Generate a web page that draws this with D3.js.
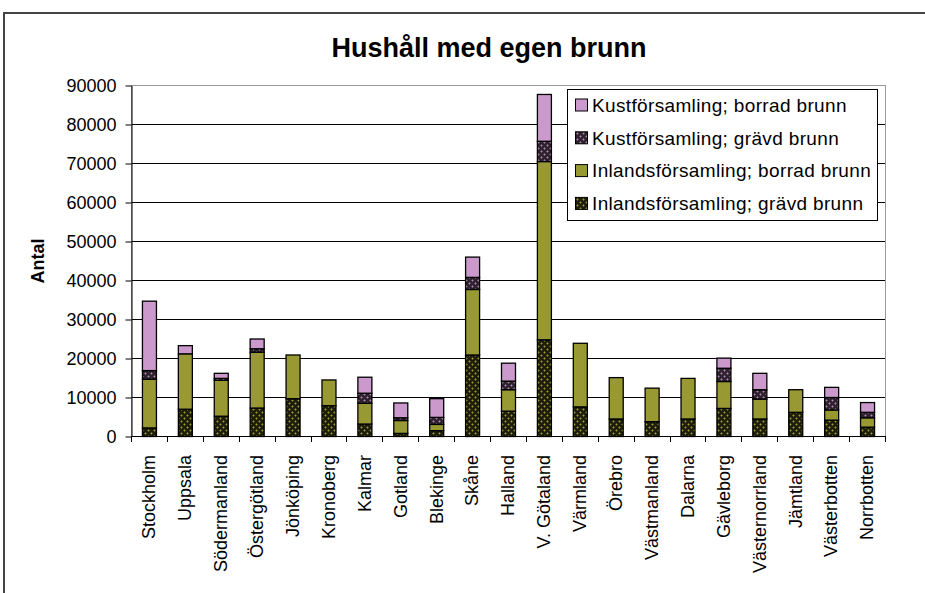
<!DOCTYPE html>
<html>
<head>
<meta charset="utf-8">
<script src="https://cdn.jsdelivr.net/npm/d3@7"></script>
<style>
  body { margin: 0; background: #fff; }
  text { font-family: "Liberation Sans", Arial, sans-serif; fill: #000; }
</style>
</head>
<body>
<div class="chart"></div>
<script>
const lan = ["Stockholm", "Uppsala", "Södermanland", "Östergötland", "Jönköping",
  "Kronoberg", "Kalmar", "Gotland", "Blekinge", "Skåne", "Halland", "V. Götaland",
  "Värmland", "Örebro", "Västmanland", "Dalarna", "Gävleborg", "Västernorrland",
  "Jämtland", "Västerbotten", "Norrbotten"];

// stacked from bottom to top
const inlandGravd = [2200, 7000, 5200, 7300, 9700, 7900, 3200, 800, 1500, 20900, 6500, 24800,
  7600, 4500, 3800, 4500, 7200, 4500, 6200, 4200, 2400];
const inlandBorrad = [12500, 14200, 9200, 14300, 11200, 6600, 5300, 3300, 1600, 16800, 5500, 45700,
  16300, 10600, 8600, 10400, 6900, 5100, 5800, 2600, 2400];
const kustGravd = [2200, 0, 500, 900, 0, 0, 2600, 700, 1800, 3100, 2200, 5200,
  0, 0, 0, 0, 3400, 2400, 0, 3200, 1400];
const kustBorrad = [17800, 2100, 1300, 2500, 0, 0, 4100, 3800, 4800, 5200, 4600, 12000,
  0, 0, 0, 0, 2600, 4200, 0, 2600, 2500];

const seriesNames = ["Inlandsförsamling; grävd brunn", "Inlandsförsamling; borrad brunn",
  "Kustförsamling; grävd brunn", "Kustförsamling; borrad brunn"];
const yTicks = [0, 10000, 20000, 30000, 40000, 50000, 60000, 70000, 80000, 90000];

const width = 925, height = 593;
const plotLeft = 131, plotRight = 885, plotTop = 85, plotBottom = 436;

const svg = d3.select(".chart").append("svg")
  .attr("width", width).attr("height", height);

svg.append("rect").attr("width", width).attr("height", height).attr("fill", "#fff");

// patterns for the dug wells
const defs = svg.append("defs");
function hatch(id, bg, fg) {
  const p = defs.append("pattern").attr("id", id)
    .attr("patternUnits", "userSpaceOnUse").attr("width", 6).attr("height", 6);
  p.append("rect").attr("width", 6).attr("height", 6).attr("fill", bg);
  p.append("path").attr("d", "M1.5 0.3 L2.7 1.5 L1.5 2.7 L0.3 1.5 Z M4.5 3.3 L5.7 4.5 L4.5 5.7 L3.3 4.5 Z")
    .attr("fill", fg);
}
hatch("pInland", "#1e1e08", "#9a9a3a");
hatch("pKust", "#2e222e", "#b088b0");

const fills = ["url(#pInland)", "#999933", "url(#pKust)", "#CC99CC"];

// outer frame
svg.append("path").attr("d", `M4 593 V13 H925`).attr("fill", "none")
  .attr("stroke", "#444").attr("stroke-width", 2);

const data = lan.map((d, i) => ({
  lan: d, s0: inlandGravd[i], s1: inlandBorrad[i], s2: kustGravd[i], s3: kustBorrad[i]
}));
const stack = d3.stack().keys(["s0", "s1", "s2", "s3"])(data);

const x = d3.scaleBand().domain(lan).range([plotLeft, plotRight]).paddingInner(0.61).paddingOuter(0.305);
const y = d3.scaleLinear().domain([0, 90000]).range([plotBottom, plotTop]);

// gridlines
svg.append("g").selectAll("line").data(yTicks.filter(t => t > 0 && t < 90000)).join("line")
  .attr("x1", plotLeft).attr("x2", plotRight)
  .attr("y1", d => y(d) + 0.5).attr("y2", d => y(d) + 0.5)
  .attr("stroke", "#000").attr("stroke-width", 1);

// plot area border
svg.append("rect").attr("x", plotLeft + 0.5).attr("y", y(90000) + 0.5)
  .attr("width", plotRight - plotLeft).attr("height", plotBottom - y(90000))
  .attr("fill", "none").attr("stroke", "#999").attr("stroke-width", 1);

// bars
svg.append("g").selectAll("g").data(stack).join("g")
  .attr("fill", (d, i) => fills[i])
  .selectAll("rect").data(d => d.filter(s => s[1] - s[0] > 0)).join("rect")
  .attr("x", d => x(d.data.lan) + 0.5)
  .attr("y", d => y(d[1]) + 0.5)
  .attr("width", x.bandwidth())
  .attr("height", d => y(d[0]) - y(d[1]))
  .attr("stroke", "#000").attr("stroke-width", 1.3);

// y axis
const yAxis = svg.append("g").attr("transform", `translate(${plotLeft + 0.5},0.5)`)
  .call(d3.axisLeft(y).tickValues(yTicks).tickFormat(d3.format("d")).tickSize(6).tickPadding(9).tickSizeOuter(0));
yAxis.select(".domain").attr("stroke", "#000");
yAxis.selectAll("line").attr("stroke", "#000");
yAxis.selectAll("text").style("font-size", "18px").attr("dy", "0.34em");

// x axis: ticks on the category boundaries
const step = x.step();
const boundaries = d3.range(lan.length + 1).map(i => x.range()[0] + i * step);
svg.append("line").attr("x1", plotLeft).attr("x2", plotRight)
  .attr("y1", plotBottom + 0.5).attr("y2", plotBottom + 0.5).attr("stroke", "#000");
svg.append("g").selectAll("line").data(boundaries).join("line")
  .attr("x1", d => Math.round(d) + 0.5).attr("x2", d => Math.round(d) + 0.5)
  .attr("y1", plotBottom).attr("y2", plotBottom + 6).attr("stroke", "#000");
svg.append("g").selectAll("text").data(lan).join("text")
  .attr("transform", d => `translate(${x(d) + x.bandwidth() / 2},455) rotate(-90)`)
  .attr("text-anchor", "end").attr("dy", "0.35em")
  .style("font-size", "18px").text(d => d);

// title and axis label
svg.append("text").attr("x", 489).attr("y", 57).attr("text-anchor", "middle")
  .style("font-size", "27px").style("font-weight", "bold").text("Hushåll med egen brunn");
svg.append("text").attr("transform", "translate(44,261) rotate(-90)")
  .attr("text-anchor", "middle").style("font-size", "18px").style("font-weight", "bold")
  .text("Antal");

// legend, listed top series first
const legend = svg.append("g");
legend.append("rect").attr("x", 567.5).attr("y", 89.5).attr("width", 310).attr("height", 131)
  .attr("fill", "#fff").attr("stroke", "#000");
const order = [3, 2, 1, 0];
order.forEach((s, i) => {
  const cy = 105 + i * 32.8;
  legend.append("rect").attr("x", 575.5).attr("y", cy - 6).attr("width", 12).attr("height", 12)
    .attr("fill", fills[s]).attr("stroke", "#000");
  legend.append("text").attr("x", 592).attr("y", cy).attr("dy", "0.36em")
    .style("font-size", "19px").style("letter-spacing", "0.35px").text(seriesNames[s]);
});
</script>
</body>
</html>
